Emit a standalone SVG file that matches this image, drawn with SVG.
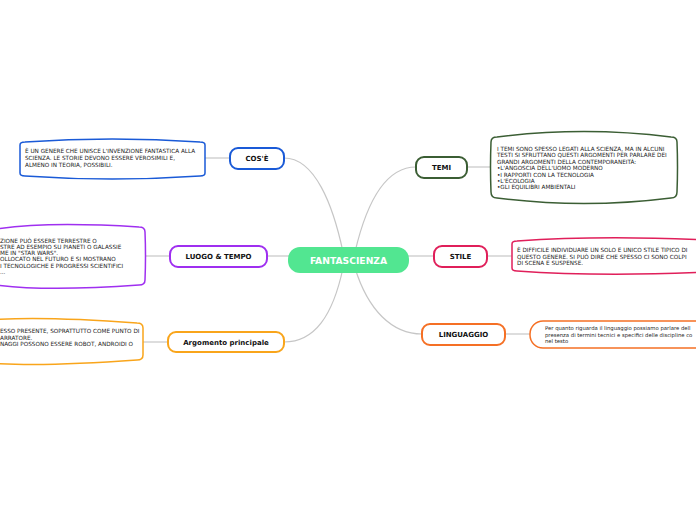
<svg xmlns="http://www.w3.org/2000/svg" width="696" height="520" viewBox="0 0 696 520">
<style>
.bg{fill:#ffffff}
.conn{fill:none;stroke:#c6c6c6;stroke-width:1.2}
.node{fill:#ffffff;stroke-width:2}
.lbl{font-family:"DejaVu Sans","Liberation Sans",sans-serif;font-weight:bold;font-size:7px;fill:#111;text-anchor:middle}
.det{fill:#ffffff;stroke-width:1.5}
.dt{font-family:"DejaVu Sans","Liberation Sans",sans-serif;font-size:5.7px;fill:#222}
.lt{font-family:"DejaVu Sans","Liberation Sans",sans-serif;font-size:5.3px;fill:#222}
</style>
<rect class="bg" x="0" y="0" width="696" height="520"/>
<g id="connectors">
<path class="conn" d="M343,252 C333,205 315,158 284,158"/>
<path class="conn" d="M355,252 C366,205 385,167 416,167"/>
<path class="conn" d="M267,256 L290,256"/>
<path class="conn" d="M407,256 L434,256"/>
<path class="conn" d="M343,268 C333,315 315,342 284,342"/>
<path class="conn" d="M355,268 C368,310 392,334 422,334"/>
<path class="conn" d="M205,158 L230,158"/>
<path class="conn" d="M467,167 L491,167"/>
<path class="conn" d="M145,256 L170,256"/>
<path class="conn" d="M487,256 L512,256"/>
<path class="conn" d="M143,342 L168,342"/>
<path class="conn" d="M505,334 L530,334"/>
</g>
<g id="center">
<rect x="288" y="247" width="121" height="26" rx="12" fill="#52e691"/>
<text x="348.5" y="263.5" font-family="DejaVu Sans, Liberation Sans, sans-serif" font-weight="bold" font-size="9.2" fill="#ffffff" text-anchor="middle">FANTASCIENZA</text>
</g>
<g id="cose">
<rect class="node" x="230" y="148" width="54" height="21" rx="8" stroke="#1a5ad7"/>
<text class="lbl" x="257" y="161">COS'È</text>
</g>
<g id="cose-detail">
<path class="det" stroke="#1a5ad7" d="M20,145 Q20,142 25,142 Q112,136 200,142 Q205,142 205,145 L205,173 Q205,176 200,176 Q112,182 25,176 Q20,176 20,173 Z"/>
<text class="dt" x="25" y="153">È UN GENERE CHE UNISCE L'INVENZIONE FANTASTICA ALLA</text>
<text class="dt" x="25" y="160">SCIENZA. LE STORIE DEVONO ESSERE VEROSIMILI E,</text>
<text class="dt" x="25" y="167">ALMENO IN TEORIA, POSSIBILI.</text>
</g>
<g id="temi">
<rect class="node" x="416" y="157" width="51" height="21" rx="8" stroke="#3b5e34"/>
<text class="lbl" x="441.5" y="170">TEMI</text>
</g>
<g id="temi-detail">
<path class="det" stroke="#3b5e34" d="M491,142 Q491,137 497,137 Q584,126 671,137 Q677,137 677,142 Q678,167 677,192 Q677,198 671,198 Q584,209 497,198 Q491,198 491,192 Q490,167 491,142 Z"/>
<text class="dt" x="497" y="151">I TEMI SONO SPESSO LEGATI ALLA SCIENZA, MA IN ALCUNI</text>
<text class="dt" x="497" y="157.4">TESTI SI SFRUTTANO QUESTI ARGOMENTI PER PARLARE DEI</text>
<text class="dt" x="497" y="163.8">GRANDI ARGOMENTI DELLA CONTEMPORANEITÀ:</text>
<text class="dt" x="497" y="170.2">•L'ANGOSCIA DELL'UOMO MODERNO</text>
<text class="dt" x="497" y="176.6">•I RAPPORTI CON LA TECNOLOGIA</text>
<text class="dt" x="497" y="183">•L'ECOLOGIA</text>
<text class="dt" x="497" y="189.4">•GLI EQUILIBRI AMBIENTALI</text>
</g>
<g id="luogo">
<rect class="node" x="170" y="246" width="97" height="21" rx="8" stroke="#9f2ff0"/>
<text class="lbl" x="218.5" y="259">LUOGO &amp; TEMPO</text>
</g>
<g id="luogo-detail">
<path class="det" stroke="#9f2ff0" d="M-10,230 Q40,221 139,227 Q145,227 145,232 Q146,256 145,280 Q145,285 139,285 Q40,292 -10,284 Z"/>
<text class="dt" x="0" y="243">ZIONE PUÒ ESSERE TERRESTRE O</text>
<text class="dt" x="0" y="249">STRE AD ESEMPIO SU PIANETI O GALASSIE</text>
<text class="dt" x="0" y="255">ME IN "STAR WARS".</text>
<text class="dt" x="0" y="261">OLLOCATO NEL FUTURO E SI MOSTRANO</text>
<text class="dt" x="0" y="268">I TECNOLOGICHE E PROGRESSI SCIENTIFICI</text>
<text class="dt" x="0" y="274">...</text>
</g>
<g id="stile">
<rect class="node" x="434" y="246" width="53" height="21" rx="8" stroke="#e01f5a"/>
<text class="lbl" x="460.5" y="259">STILE</text>
</g>
<g id="stile-detail">
<path class="det" stroke="#e01f5a" d="M512,244 Q512,241 517,241 Q600,235 710,240 L710,272 Q600,277 517,271 Q512,271 512,268 Z"/>
<text class="dt" x="517" y="252">È DIFFICILE INDIVIDUARE UN SOLO E UNICO STILE TIPICO DI</text>
<text class="dt" x="517" y="258.5">QUESTO GENERE. SI PUÒ DIRE CHE SPESSO CI SONO COLPI</text>
<text class="dt" x="517" y="265">DI SCENA E SUSPENSE.</text>
</g>
<g id="argomento">
<rect class="node" x="168" y="332" width="116" height="20" rx="8" stroke="#f9a51b"/>
<text class="lbl" x="226" y="345">Argomento principale</text>
</g>
<g id="argomento-detail">
<path class="det" stroke="#f9a51b" d="M-10,320 Q40,316 137,323 Q143,323 143,328 L143,355 Q143,360 137,360 Q40,367 -10,363 Z"/>
<text class="dt" x="0" y="333">ESSO PRESENTE, SOPRATTUTTO COME PUNTO DI</text>
<text class="dt" x="0" y="340">ARRATORE.</text>
<text class="dt" x="0" y="346">NAGGI POSSONO ESSERE ROBOT, ANDROIDI O</text>
</g>
<g id="linguaggio">
<rect class="node" x="422" y="324" width="83" height="21" rx="8" stroke="#f57025"/>
<text class="lbl" x="463.5" y="337">LINGUAGGIO</text>
</g>
<g id="linguaggio-detail">
<rect class="det" x="530" y="321" width="190" height="27" rx="13" stroke="#f57025"/>
<text class="lt" x="545" y="330">Per quanto riguarda il linguaggio possiamo parlare dell</text>
<text class="lt" x="545" y="336.5">presenza di termini tecnici e specifici delle discipline co</text>
<text class="lt" x="545" y="343">nel testo</text>
</g>
</svg>
